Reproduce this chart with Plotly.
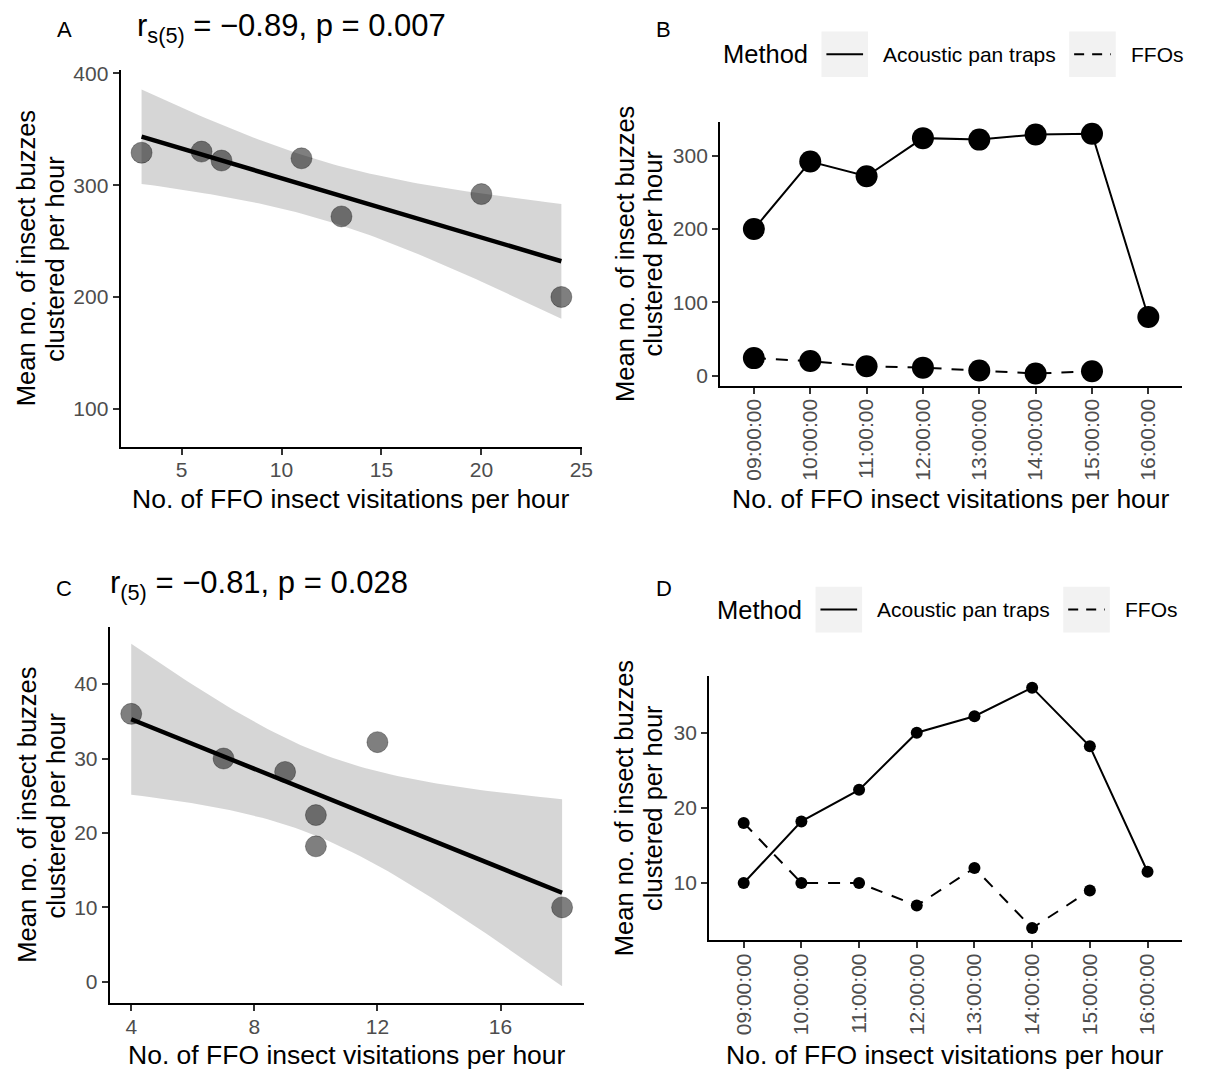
import numpy as np
import plotly.graph_objects as go

# ---- data -------------------------------------------------------------
hours = ["09:00:00", "10:00:00", "11:00:00", "12:00:00",
         "13:00:00", "14:00:00", "15:00:00", "16:00:00"]

# Day 1 (panels A and B)
apt_day1 = [200, 292, 272, 324, 322, 329, 330, 80]
ffo_day1 = [24, 20, 13, 11, 7, 3, 6]

# Day 2 (panels C and D)
apt_day2 = [10, 18.2, 22.4, 30, 32.2, 36, 28.2, 11.5]
ffo_day2 = [18, 10, 10, 7, 12, 4, 9]

title_a = "r<sub>s(5)</sub> = \u22120.89, p = 0.007"
title_c = "r<sub>(5)</sub> = \u22120.81, p = 0.028"
x_title = "No. of FFO insect visitations per hour"
y_title_lines = ["Mean no. of insect buzzes", "clustered per hour"]

W, H = 1208, 1072
FONT = "Liberation Sans, Arial, sans-serif"
T_CRIT = 2.5706  # t(0.975, df = 5)


def px(x):
    return x / W


def py(y):
    return 1 - y / H


def lm_band(x, y, n=80):
    """Least-squares line with a 95% confidence band, as geom_smooth(method='lm')."""
    x = np.asarray(x, float)
    y = np.asarray(y, float)
    slope, icpt = np.polyfit(x, y, 1)
    resid = y - (icpt + slope * x)
    s = np.sqrt(np.sum(resid ** 2) / (len(x) - 2))
    xs = np.linspace(x.min(), x.max(), n)
    fit = icpt + slope * xs
    se = s * np.sqrt(1 / len(x) + (xs - x.mean()) ** 2 / np.sum((x - x.mean()) ** 2))
    return xs, fit, fit - T_CRIT * se, fit + T_CRIT * se


def expand(lo, hi, f=0.05):
    d = (hi - lo) * f
    return [lo - d, hi + d]


fig = go.Figure()

# ---- scatter + regression panels (A, C) ------------------------------
def scatter_panel(xv, yv, xa, ya):
    xs, fit, lo, hi = lm_band(xv, yv)
    fig.add_trace(go.Scatter(
        x=np.concatenate([xs, xs[::-1]]), y=np.concatenate([hi, lo[::-1]]),
        fill="toself", fillcolor="rgba(153,153,153,0.4)", line=dict(width=0),
        mode="lines", hoverinfo="skip", showlegend=False, xaxis=xa, yaxis=ya))
    fig.add_trace(go.Scatter(
        x=xv, y=yv, mode="markers", showlegend=False, xaxis=xa, yaxis=ya,
        marker=dict(size=21, color="rgba(0,0,0,0.5)",
                    line=dict(width=1, color="rgba(0,0,0,0.3)"))))
    fig.add_trace(go.Scatter(
        x=xs, y=fit, mode="lines", line=dict(color="black", width=4.5),
        showlegend=False, xaxis=xa, yaxis=ya))
    return lo.min(), hi.max()


scatter_panel(ffo_day1, apt_day1[:7], "x", "y")
c_lo, c_hi = scatter_panel(ffo_day2, apt_day2[:7], "x3", "y3")

# ---- time-series panels (B, D) ----------------------------------------
def series_panel(apt, ffo, xa, ya, msize):
    fig.add_trace(go.Scatter(
        x=hours, y=apt, mode="lines+markers", showlegend=False,
        line=dict(color="black", width=2), marker=dict(size=msize, color="black"),
        xaxis=xa, yaxis=ya))
    fig.add_trace(go.Scatter(
        x=hours[:len(ffo)], y=ffo, mode="lines+markers", showlegend=False,
        line=dict(color="black", width=2, dash="12px,10px"),
        marker=dict(size=msize, color="black"), xaxis=xa, yaxis=ya))


series_panel(apt_day1, ffo_day1, "x2", "y2", 22)
series_panel(apt_day2, ffo_day2, "x4", "y4", 12)

# ---- axes ---------------------------------------------------------------
axis_common = dict(
    showline=True, linecolor="black", linewidth=2, showgrid=False, zeroline=False,
    ticks="outside", ticklen=6, tickwidth=2, tickcolor="#333333",
    tickfont=dict(family=FONT, size=21, color="#4d4d4d"),
)
x_common = dict(axis_common, ticklabelstandoff=-3)

all_b = apt_day1 + ffo_day1
all_d = apt_day2 + ffo_day2

fig.update_layout(
    xaxis=dict(x_common, domain=[px(121.7), px(587.7)], anchor="y",
               range=expand(min(ffo_day1), max(ffo_day1)),
               tickvals=[5, 10, 15, 20, 25]),
    yaxis=dict(axis_common, domain=[py(442.5), py(62.5)], anchor="x",
               range=[66, 403], tickvals=[100, 200, 300, 400]),
    xaxis2=dict(x_common, domain=[px(726.7), px(1193)], anchor="y2",
                type="category", categoryorder="array", categoryarray=hours,
                range=[-0.6, 7.6], tickangle=-90),
    yaxis2=dict(axis_common, domain=[py(380.7), py(114.7)], anchor="x2",
                range=expand(min(all_b), max(all_b)), tickvals=[0, 100, 200, 300]),
    xaxis3=dict(x_common, domain=[px(110.7), px(589)], anchor="y3",
                range=expand(min(ffo_day2), max(ffo_day2)),
                tickvals=[4, 8, 12, 16]),
    yaxis3=dict(axis_common, domain=[py(1003.8), py(623.9)], anchor="x3",
                range=expand(c_lo, c_hi), tickvals=[0, 10, 20, 30, 40]),
    xaxis4=dict(x_common, domain=[px(715.6), px(1193)], anchor="y4",
                type="category", categoryorder="array", categoryarray=hours,
                range=[-0.6, 7.6], tickangle=-90),
    yaxis4=dict(axis_common, domain=[py(940), py(673.3)], anchor="x4",
                range=expand(min(all_d), max(all_d)), tickvals=[10, 20, 30]),
)

# ---- text ----------------------------------------------------------------
ann = []


def text(x, y, s, size, xanchor="center", angle=0, color="black"):
    ann.append(dict(x=px(x), y=py(y), xref="paper", yref="paper", text=s,
                    showarrow=False, xanchor=xanchor, yanchor="middle",
                    textangle=angle, font=dict(family=FONT, size=size, color=color)))


# panel letters and statistics
text(65, 22, "A", 22)
text(670, 22, "B", 22)
text(65, 585, "C", 22)
text(670, 585, "D", 22)
text(136, 20, title_a, 31, xanchor="left")
text(109, 582, title_c, 31, xanchor="left")

# axis titles
for cx, cy in [(354.7, 495), (960, 495), (350, 1056), (954, 1056)]:
    text(cx, cy, x_title, 26.5)
for cx, cy in [(27, 252.5), (630, 247.7), (27, 813.8), (630, 806.7)]:
    text(cx, cy, y_title_lines[0], 25.5, angle=-90)
    text(cx + 29, cy, y_title_lines[1], 25.5, angle=-90)

# legends for B and D
shapes = []


def legend(x0, yc):
    text(x0, yc, "Method", 25.5, xanchor="left")
    for bx, label, dash in [(x0 + 101, "Acoustic pan traps", "solid"),
                            (x0 + 351, "FFOs", "dash")]:
        shapes.append(dict(type="rect", xref="paper", yref="paper",
                           x0=px(bx), x1=px(bx + 47), y0=py(yc + 23), y1=py(yc - 23),
                           fillcolor="#f2f2f2", line=dict(width=0), layer="below"))
        shapes.append(dict(type="line", xref="paper", yref="paper",
                           x0=px(bx + 5), x1=px(bx + 42), y0=py(yc), y1=py(yc),
                           line=dict(color="black", width=2,
                                     dash="solid" if dash == "solid" else "10px,8px")))
        text(bx + 60, yc, label, 21, xanchor="left")


legend(728, 46.7)
legend(722, 606.7)

fig.update_layout(
    annotations=ann, shapes=shapes,
    width=W, height=H, margin=dict(l=0, r=0, t=0, b=0),
    paper_bgcolor="white", plot_bgcolor="white",
    font=dict(family=FONT), showlegend=False,
)

fig.write_html("out.html")
